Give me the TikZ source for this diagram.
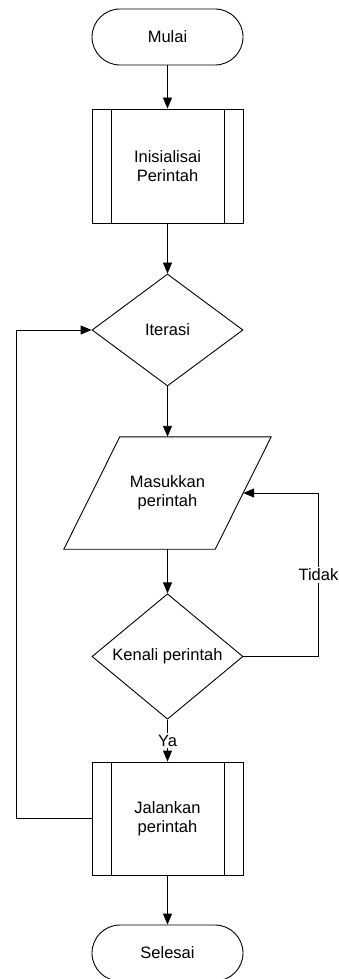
\documentclass[tikz,border=0pt]{standalone}
\usepackage{fontspec}
\setmainfont{Liberation Sans}
\usetikzlibrary{shapes.geometric,arrows.meta}

\begin{document}
\begin{tikzpicture}[x=1pt,y=-1pt]
        \tikzstyle{every node}=[font=\fontsize{16.5}{19}\selectfont, align=center]
        \tikzstyle{terminal}=[draw, line width=0.9pt, rounded corners=28pt, minimum width=151pt, minimum height=56pt]
        \tikzstyle{predef}=[draw, line width=0.9pt, minimum width=151pt, minimum height=114pt,
          path picture={\draw[line width=0.9pt] ([xshift=19pt]path picture bounding box.north west) -- ([xshift=19pt]path picture bounding box.south west)
            ([xshift=-19pt]path picture bounding box.north east) -- ([xshift=-19pt]path picture bounding box.south east);}]
        \tikzstyle{decision}=[draw, line width=0.9pt, diamond, inner sep=0pt, minimum width=151pt, minimum height=112pt]
        \tikzstyle{inout}=[minimum width=151pt, minimum height=112pt]
        \tikzstyle{answer}=[fill=white, inner sep=2pt]
        \tikzstyle{normally}=[line width=0.9pt, >={Triangle[length=11pt,width=9pt]}]
        \useasboundingbox (0,0) rectangle (339,979);
        \node[terminal] (mulai) at (167.5,37) {Mulai};
        \node[predef] (init) at (167.5,166) {Inisialisai\\Perintah}
        edge [<-,normally] (mulai);
        \node[decision] (iter) at (167.5,330) {Iterasi}
        edge [<-,normally] (init);
        \node[inout] (masuk) at (167.5,493) {Masukkan\\perintah}
        edge [<-,normally] (iter);
        \draw[line width=0.9pt] ([xshift=28pt]masuk.north west) -- ([xshift=28pt]masuk.north east)
          -- ([xshift=-28pt]masuk.south east) -- ([xshift=-28pt]masuk.south west) -- cycle;
        \node[decision] (kenali) at (167.5,656.5) {Kenali perintah}
        edge [<-,normally] (masuk);
        \node[predef, minimum height=113pt] (jalan) at (167.5,818.5) {Jalankan\\perintah}
        edge [<-,normally] node[answer] {Ya} (kenali);
        \node[terminal] (selesai) at (167.5,953) {Selesai}
        edge [<-,normally] (jalan);
        \draw [->,normally] (kenali.east) -- ++(75,0) |- node[answer,pos=0.25] {Tidak} (masuk.east);
        \draw [->,normally] (jalan.west) -- ++(-75,0) |- (iter.west);
      \end{tikzpicture}
\end{document}
